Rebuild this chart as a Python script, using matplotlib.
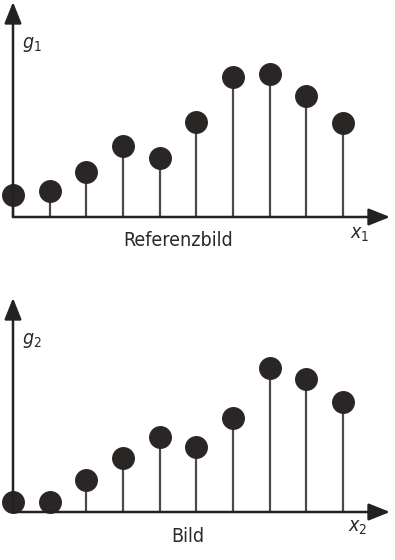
import numpy as np
from matplotlib import pyplot as plt

plt.rcParams['font.family'] = ['DejaVu Sans']
plt.rcParams['font.stretch'] = 'condensed'
plt.rcParams['mathtext.fontset'] = 'dejavusans'

x = np.arange(10)
g1 = [22, 26, 45, 71, 59, 95, 140, 143, 121, 94]
g2 = [10, 10, 32, 54, 75, 65, 94, 144, 133, 110]

W, H = 395, 560
fig = plt.figure(figsize=(W / 100, H / 100), dpi=100)


def stem_panel(base, top, values):
    # Achsen in Pixelkoordinaten angeben
    ax = fig.add_axes([13 / W, 1 - base / H, 377 / W, (base - top) / H])
    ax.set_xlim(0, 10.28)
    ax.set_ylim(0, base - top)
    ax.axis('off')
    ax.vlines(x, 0, values, color='#4a4a4a', lw=1.6, clip_on=False)
    ax.plot(x, values, 'o', ms=15.5, color='#2b2626', clip_on=False, zorder=3)
    arrow = dict(arrowstyle='-|>,head_length=1.0,head_width=0.4',
                 color='#222222', lw=1.8, mutation_scale=13,
                 shrinkA=0, shrinkB=0)
    ax.annotate('', xy=(0, 1), xytext=(0, 0), xycoords='axes fraction',
                arrowprops=arrow)
    ax.annotate('', xy=(1, 0), xytext=(0, 0), xycoords='axes fraction',
                arrowprops=arrow)
    return ax


stem_panel(217, 2, g1)
stem_panel(512, 298, g2)

txt = dict(ha='center', va='center', color='#2a2a2a')
fig.text(32 / W, 1 - 44 / H, r'$g_{\mathit{1}}$', fontsize=14, **txt)
fig.text(178 / W, 1 - 240 / H, 'Referenzbild', fontsize=14, **txt)
fig.text(360 / W, 1 - 234 / H, r'$x_{\mathit{1}}$', fontsize=14, **txt)

fig.text(32 / W, 1 - 341 / H, r'$g_{\mathit{2}}$', fontsize=14, **txt)
fig.text(188 / W, 1 - 537 / H, 'Bild', fontsize=14, **txt)
fig.text(358 / W, 1 - 528 / H, r'$x_{\mathit{2}}$', fontsize=14, **txt)

fig.savefig('out.png', dpi=100)
